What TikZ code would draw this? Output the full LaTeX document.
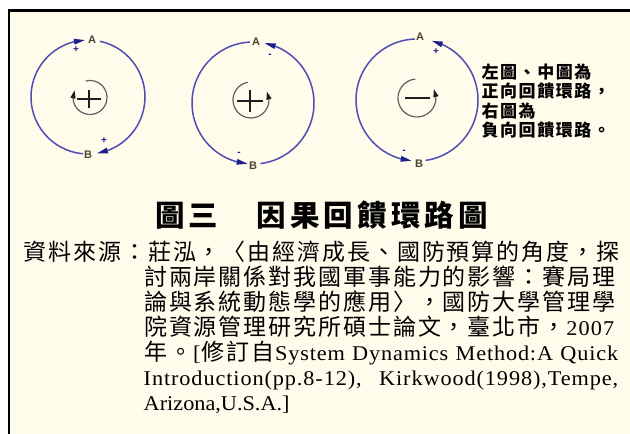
\documentclass[tikz,border=0pt]{standalone}
\usepackage{fontspec}
\setmainfont{Liberation Serif}[FakeStretch=1.06]
\newfontfamily\cjk{Noto Sans CJK TC}
\newfontfamily\labfont{Liberation Sans}
\usetikzlibrary{arrows.meta,bending}
\definecolor{cream}{RGB}{255,252,236}
\definecolor{loopblue}{RGB}{78,78,180}
\definecolor{headblue}{RGB}{30,30,140}
\definecolor{labbrown}{RGB}{78,66,50}
\definecolor{arcgray}{RGB}{95,95,95}
\definecolor{symblack}{RGB}{30,30,30}
% cell-by-cell CJK setting
\def\cellloop#1{\ifx\relax#1\else\hbox to \cellw{\hss#1\hss}\expandafter\cellloop\fi}
\newcommand\srctxt[1]{{\cjk\fontsize{23}{23}\selectfont\def\cellw{24.9pt}\cellloop#1\relax}}
\newcommand\ttltxt[1]{{\cjk\bfseries\fontsize{29.5}{29.5}\selectfont\def\cellw{33.7pt}\cellloop#1\relax}}
\newcommand\sidetxt[1]{{\cjk\bfseries\fontsize{17}{17}\selectfont\def\cellw{18.6pt}\cellloop#1\relax}}
\tikzset{
  loopline/.style={draw=loopblue, line width=1.5pt},
  bighead/.style={-{Triangle[length=11pt,width=5.5pt,color=headblue]}},
  innerarc/.style={draw=arcgray, line width=1.2pt, -{Triangle[length=8pt,width=5pt,color=symblack]}},
  symline/.style={draw=symblack, line width=2.6pt},
  ablabel/.style={font=\labfont\bfseries\fontsize{11}{11}\selectfont, text=labbrown, inner sep=0.5pt},
  signlabel/.style={font=\labfont\bfseries\fontsize{10}{10}\selectfont, text=headblue, inner sep=0pt},
  srcline/.style={anchor=base west, inner sep=0pt, font=\fontsize{21}{24}\selectfont},
  sideline/.style={anchor=base west, inner sep=0pt},
}
\begin{document}
\begin{tikzpicture}[x=1pt,y=1pt]
\useasboundingbox (0,0) rectangle (630,434);
\fill[white] (0,0) rectangle (630,434);
\fill[cream] (9,0) rectangle (630,423.3);
\draw[black, line width=2.4pt] (9,0) -- (9,423.3) -- (630,423.3);

% ---------- circle 1 (positive, clockwise) ----------
\coordinate (c1) at (88,337);
\node[ablabel] (a1) at (92,394) {A};
\node[ablabel] (b1) at (88,279) {B};
\draw[loopline, bighead] ([shift={(265:57)}]c1) arc[start angle=265, end angle=93, radius=57];
\draw[loopline, bighead] ([shift={(78:57)}]c1) arc[start angle=78, end angle=-81, radius=57];
\node[signlabel] (s1a) at (76,384) {+};
\node[signlabel] (s1b) at (104,293) {+};
\coordinate (i1) at (90,336.5);
\draw[innerarc] ([shift={(105:17)}]i1) arc[start angle=105, end angle=-205, radius=17];
\coordinate (p1) at (89,335);
\draw[symline] ([xshift=-12]p1) -- ([xshift=12]p1) ([yshift=-9]p1) -- ([yshift=9]p1);

% ---------- circle 2 (positive, counter-clockwise) ----------
\coordinate (c2) at (253,331);
\node[ablabel] (a2) at (256,392) {A};
\node[ablabel] (b2) at (253,268) {B};
\draw[loopline, bighead] ([shift={(93:61)}]c2) arc[start angle=93, end angle=265, radius=61];
\draw[loopline, bighead] ([shift={(-83:61)}]c2) arc[start angle=-83, end angle=79, radius=61];
\node[signlabel] (s2a) at (270,378) {-};
\node[signlabel] (s2b) at (239,280) {-};
\coordinate (i2) at (251,334);
\draw[innerarc] ([shift={(100:18)}]i2) arc[start angle=100, end angle=388, radius=18];
\coordinate (p2) at (250,333);
\draw[symline] ([xshift=-13]p2) -- ([xshift=13]p2) ([yshift=-11]p2) -- ([yshift=11]p2);

% ---------- circle 3 (negative, counter-clockwise) ----------
\coordinate (c3) at (417,334);
\node[ablabel] (a3) at (420,397) {A};
\node[ablabel] (b3) at (419,270) {B};
\draw[loopline, bighead] ([shift={(92:61)}]c3) arc[start angle=92, end angle=265, radius=61];
\draw[loopline, bighead] ([shift={(-82:61)}]c3) arc[start angle=-82, end angle=76, radius=61];
\node[signlabel] (s3a) at (436,382) {+};
\node[signlabel] (s3b) at (404,282) {-};
\coordinate (i3) at (417,336);
\draw[innerarc] ([shift={(95:19)}]i3) arc[start angle=95, end angle=388, radius=19];
\coordinate (p3) at (417,336);
\draw[symline] ([xshift=-12]p3) -- ([xshift=13]p3);

% ---------- side text ----------
\node[sideline] (t1) at (480.5,355.7) {\sidetxt{左圖、中圖為}};
\node[sideline] (t2) at (480.5,336.2) {\sidetxt{正向回饋環路，}};
\node[sideline] (t3) at (480.5,316.7) {\sidetxt{右圖為}};
\node[sideline] (t4) at (480.5,297.2) {\sidetxt{負向回饋環路。}};

% ---------- title ----------
\node[sideline] (title) at (153,207) {\ttltxt{圖三　因果回饋環路圖}};

% ---------- source ----------
\node[srcline] (l1) at (22.5,173) {\srctxt{資料來源：莊泓，〈由經濟成長、國防預算的角度，探}};
\node[srcline] (l2) at (143,148.1) {\srctxt{討兩岸關係對我國軍事能力的影響：賽局理}};
\node[srcline] (l3) at (143,123.2) {\srctxt{論與系統動態學的應用〉，國防大學管理學}};
\node[srcline] (l4) at (143,98.3) {\srctxt{院資源管理研究所碩士論文，臺北市，}{\addfontfeatures{LetterSpace=5}2007}};
\node[srcline] (l5) at (143,73.4) {\makebox[475pt][s]{\srctxt{年。}[\srctxt{修訂自}{\addfontfeatures{LetterSpace=4}System Dynamics Method:A Quick}}};
\node[srcline] (l6) at (143.5,48.5) {\makebox[474.5pt][s]{\addfontfeatures{LetterSpace=4.3}Introduction(pp.8-12), Kirkwood(1998),Tempe,}};
\node[srcline] (l7) at (143.5,23.6) {Arizona,U.S.A.]};
\end{tikzpicture}
\end{document}
